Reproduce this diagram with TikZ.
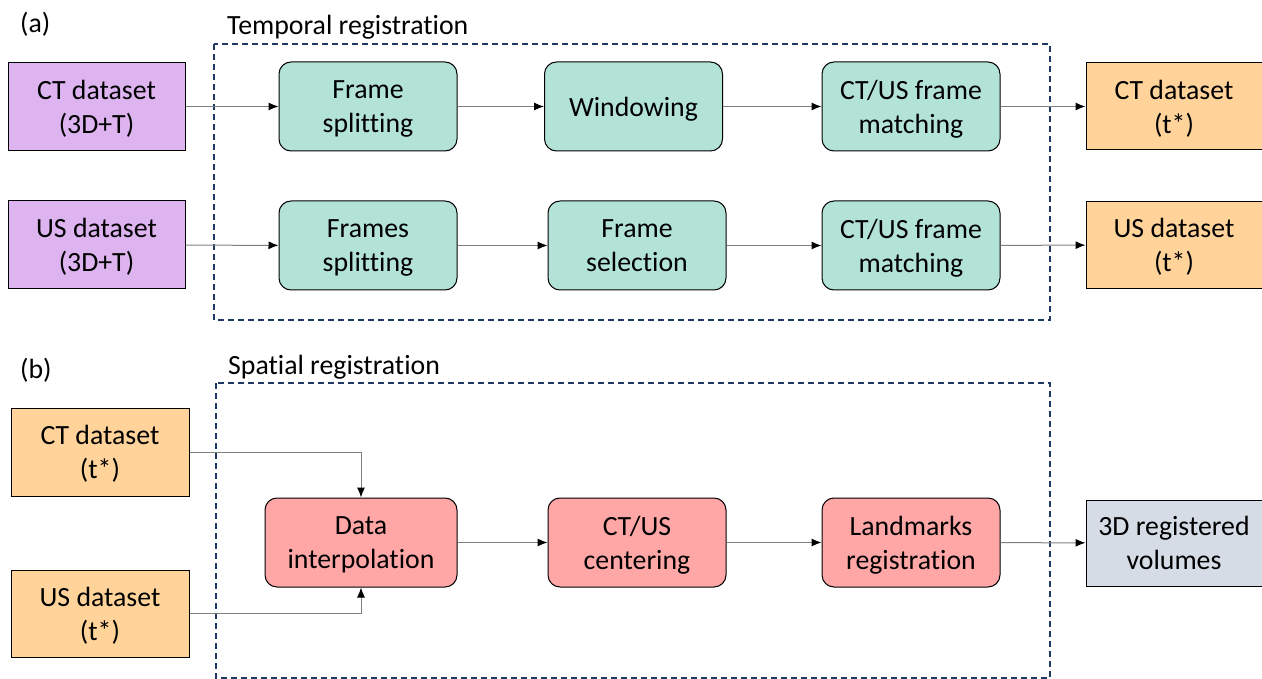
\documentclass[tikz,border=0pt]{standalone}
\usepackage{fontspec}
\setmainfont{Carlito}[RawFeature={-liga;-clig;-dlig;-calt}]
\usetikzlibrary{arrows.meta,positioning}
\definecolor{cpurple}{HTML}{DDB3F0}
\definecolor{cteal}{HTML}{B3E3D6}
\definecolor{corange}{HTML}{FFD399}
\definecolor{cpink}{HTML}{FFA6A6}
\definecolor{cgray}{HTML}{D6DCE5}
\definecolor{cnavy}{HTML}{203864}
\definecolor{cline}{HTML}{7F7F7F}
\tikzset{
  base/.style={draw=black, line width=1pt, align=center, inner sep=0pt,
    font=\fontsize{27.8}{34}\selectfont, minimum height=88pt, text depth=0pt},
  databox/.style={base, minimum width=177pt},
  procbox/.style={base, rounded corners=12pt, minimum width=178pt, minimum height=89pt},
  conn/.style={draw=cline, line width=1pt, -{Latex[length=10pt,width=8pt,black]}},
  frame/.style={draw=cnavy, line width=1.1pt, dash pattern=on 6pt off 4pt},
  lbl/.style={font=\fontsize{27.8}{30}\selectfont, anchor=base west, inner sep=0pt}
}
\begin{document}
\begin{tikzpicture}[x=1pt,y={(0pt,-1pt)}]
\useasboundingbox (0,0) rectangle (1262,679);
% frames
\draw[frame] (214,44) rectangle (1050,320);
\draw[frame] (216,383) rectangle (1050,678);
\node[lbl] (la) at (20,33) {(a)};
\node[lbl] (lt) at (227,35) {Temporal registration};
\node[lbl] (lb) at (20,378) {(b)};
\node[lbl] (ls) at (228,374) {Spatial registration};
% (a) row 1
\node[databox, fill=cpurple] (ct3d) at (96.5,106.5) {CT dataset\\(3D+T)};
\node[procbox, fill=cteal] (fs) at (368,106.5) {Frame\\splitting};
\node[procbox, fill=cteal] (win) at (633.5,106.5) {Windowing};
\node[procbox, fill=cteal] (mat1) at (911,106.5) {CT/US frame\\matching};
\node[databox, fill=corange, minimum width=176pt, minimum height=87pt] (ctout) at (1174,106.5) {CT dataset\\(t*)};
% (a) row 2
\node[databox, fill=cpurple] (us3d) at (96.5,245) {US dataset\\(3D+T)};
\node[procbox, fill=cteal] (fss) at (368,245.5) {Frames\\splitting};
\node[procbox, fill=cteal] (sel) at (637,245.5) {Frame\\selection};
\node[procbox, fill=cteal] (mat2) at (911,245.5) {CT/US frame\\matching};
\node[databox, fill=corange, minimum width=176pt, minimum height=87pt] (usout) at (1174,245) {US dataset\\(t*)};
% (b)
\node[databox, fill=corange, minimum width=178pt] (ctb) at (100,452) {CT dataset\\(t*)};
\node[databox, fill=corange, minimum width=178pt, minimum height=87pt] (usb) at (100,613.5) {US dataset\\(t*)};
\node[procbox, fill=cpink, minimum width=192pt] (interp) at (361,542.5) {Data\\interpolation};
\node[procbox, fill=cpink] (cent) at (637,542.5) {CT/US\\centering};
\node[procbox, fill=cpink] (land) at (911,542.5) {Landmarks\\registration};
\node[databox, fill=cgray, minimum width=176pt, minimum height=86pt] (vol) at (1174,543) {3D registered\\volumes};
% connectors
\draw[conn] (ct3d) -- (fs);
\draw[conn] (fs) -- (win);
\draw[conn] (win) -- (mat1);
\draw[conn] (mat1) -- (ctout);
\draw[conn] (us3d) -- (fss);
\draw[conn] (fss) -- (sel);
\draw[conn] (sel) -- (mat2);
\draw[conn] (mat2) -- (usout);
\draw[conn] (ctb.east) -| (interp.north);
\draw[conn] (usb.east) -| (interp.south);
\draw[conn] (interp) -- (cent);
\draw[conn] (cent) -- (land);
\draw[conn] (land) -- (vol);
\end{tikzpicture}
\end{document}
